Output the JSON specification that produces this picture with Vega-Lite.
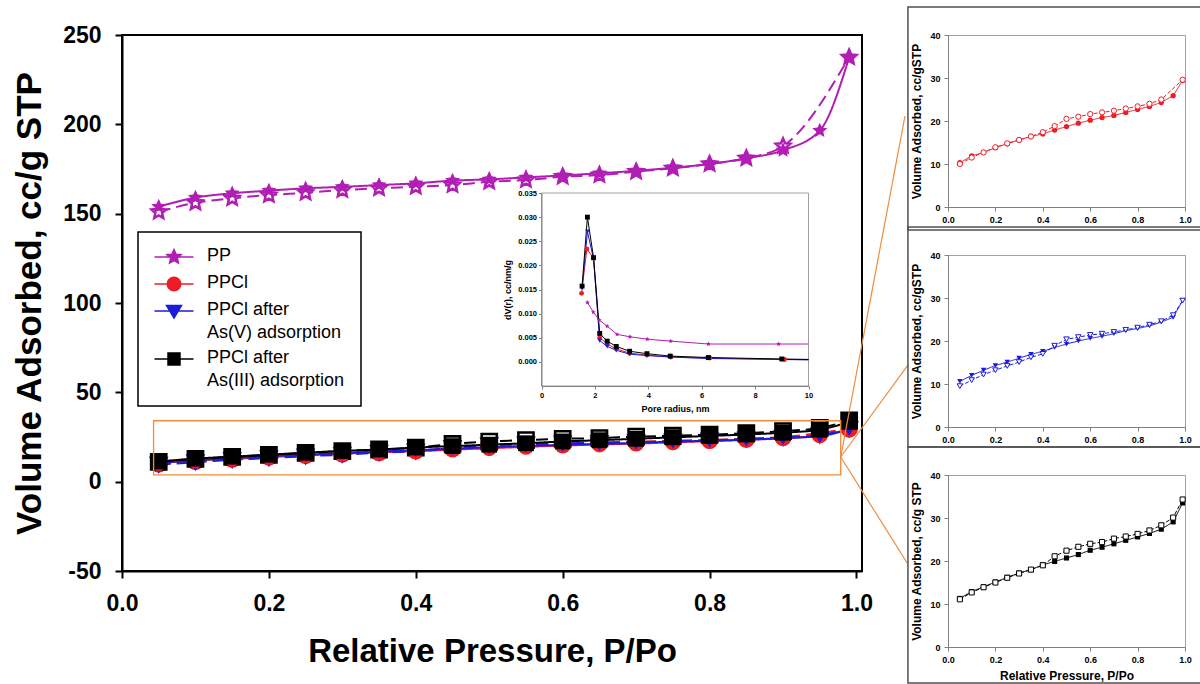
{
"$schema": "https://vega.github.io/schema/vega-lite/v6.json",
"padding": {"left": 11, "top": 5, "right": 0, "bottom": 0},
"background": "white",
"config": {"font": "Liberation Sans", "view": {"stroke": null}, "axis": {"grid": false, "labelFont": "Liberation Sans", "titleFont": "Liberation Sans", "labelFontWeight": "bold", "titleFontWeight": "bold", "labelColor": "black", "titleColor": "black"}},
"datasets": {
"iso": [
{"s":"PP","b":"ads","p":0.05,"v":153.9},{"s":"PP","b":"ads","p":0.1,"v":159},{"s":"PP","b":"ads","p":0.15,"v":161.4},{"s":"PP","b":"ads","p":0.2,"v":162.9},{"s":"PP","b":"ads","p":0.25,"v":164.2},{"s":"PP","b":"ads","p":0.3,"v":165},{"s":"PP","b":"ads","p":0.35,"v":166},{"s":"PP","b":"ads","p":0.4,"v":167},{"s":"PP","b":"ads","p":0.45,"v":168.5},{"s":"PP","b":"ads","p":0.5,"v":169.2},{"s":"PP","b":"ads","p":0.55,"v":170.3},{"s":"PP","b":"ads","p":0.6,"v":171.4},{"s":"PP","b":"ads","p":0.65,"v":172.6},{"s":"PP","b":"ads","p":0.7,"v":174},{"s":"PP","b":"ads","p":0.75,"v":175.7},{"s":"PP","b":"ads","p":0.8,"v":177.8},{"s":"PP","b":"ads","p":0.85,"v":181},{"s":"PP","b":"ads","p":0.9,"v":185.5},{"s":"PP","b":"ads","p":0.95,"v":196.5},{"s":"PP","b":"ads","p":0.99,"v":237.5},
{"s":"PP","b":"des","p":0.05,"v":151},{"s":"PP","b":"des","p":0.1,"v":156.1},{"s":"PP","b":"des","p":0.15,"v":158.6},{"s":"PP","b":"des","p":0.2,"v":160.4},{"s":"PP","b":"des","p":0.25,"v":161.7},{"s":"PP","b":"des","p":0.3,"v":163.2},{"s":"PP","b":"des","p":0.35,"v":164.2},{"s":"PP","b":"des","p":0.4,"v":165.1},{"s":"PP","b":"des","p":0.45,"v":166},{"s":"PP","b":"des","p":0.5,"v":167.9},{"s":"PP","b":"des","p":0.55,"v":168.8},{"s":"PP","b":"des","p":0.6,"v":170.7},{"s":"PP","b":"des","p":0.65,"v":171.6},{"s":"PP","b":"des","p":0.7,"v":173.5},{"s":"PP","b":"des","p":0.75,"v":175.4},{"s":"PP","b":"des","p":0.8,"v":177.8},{"s":"PP","b":"des","p":0.85,"v":181},{"s":"PP","b":"des","p":0.9,"v":187.8},{"s":"PP","b":"des","p":0.99,"v":237.5},
{"s":"PPCl","b":"ads","p":0.05,"v":10.3},{"s":"PPCl","b":"ads","p":0.1,"v":11.9},{"s":"PPCl","b":"ads","p":0.15,"v":12.7},{"s":"PPCl","b":"ads","p":0.2,"v":13.8},{"s":"PPCl","b":"ads","p":0.25,"v":14.7},{"s":"PPCl","b":"ads","p":0.3,"v":15.6},{"s":"PPCl","b":"ads","p":0.35,"v":16.4},{"s":"PPCl","b":"ads","p":0.4,"v":17.0},{"s":"PPCl","b":"ads","p":0.45,"v":17.9},{"s":"PPCl","b":"ads","p":0.5,"v":18.7},{"s":"PPCl","b":"ads","p":0.55,"v":19.5},{"s":"PPCl","b":"ads","p":0.6,"v":20.2},{"s":"PPCl","b":"ads","p":0.65,"v":20.8},{"s":"PPCl","b":"ads","p":0.7,"v":21.3},{"s":"PPCl","b":"ads","p":0.75,"v":22.0},{"s":"PPCl","b":"ads","p":0.8,"v":22.7},{"s":"PPCl","b":"ads","p":0.85,"v":23.4},{"s":"PPCl","b":"ads","p":0.9,"v":24.3},{"s":"PPCl","b":"ads","p":0.95,"v":25.9},{"s":"PPCl","b":"ads","p":0.99,"v":29.4},
{"s":"PPCl","b":"des","p":0.05,"v":10.0},{"s":"PPCl","b":"des","p":0.1,"v":11.5},{"s":"PPCl","b":"des","p":0.15,"v":12.7},{"s":"PPCl","b":"des","p":0.2,"v":13.9},{"s":"PPCl","b":"des","p":0.25,"v":14.8},{"s":"PPCl","b":"des","p":0.3,"v":15.6},{"s":"PPCl","b":"des","p":0.35,"v":16.4},{"s":"PPCl","b":"des","p":0.4,"v":17.4},{"s":"PPCl","b":"des","p":0.45,"v":18.8},{"s":"PPCl","b":"des","p":0.5,"v":20.5},{"s":"PPCl","b":"des","p":0.55,"v":21.0},{"s":"PPCl","b":"des","p":0.6,"v":21.6},{"s":"PPCl","b":"des","p":0.65,"v":22.0},{"s":"PPCl","b":"des","p":0.7,"v":22.4},{"s":"PPCl","b":"des","p":0.75,"v":22.9},{"s":"PPCl","b":"des","p":0.8,"v":23.4},{"s":"PPCl","b":"des","p":0.85,"v":24.0},{"s":"PPCl","b":"des","p":0.9,"v":25.0},{"s":"PPCl","b":"des","p":0.99,"v":29.6},
{"s":"AsV","b":"ads","p":0.05,"v":10.6},{"s":"AsV","b":"ads","p":0.1,"v":12.0},{"s":"AsV","b":"ads","p":0.15,"v":13.2},{"s":"AsV","b":"ads","p":0.2,"v":14.3},{"s":"AsV","b":"ads","p":0.25,"v":15.1},{"s":"AsV","b":"ads","p":0.3,"v":16.0},{"s":"AsV","b":"ads","p":0.35,"v":16.9},{"s":"AsV","b":"ads","p":0.4,"v":17.6},{"s":"AsV","b":"ads","p":0.45,"v":18.5},{"s":"AsV","b":"ads","p":0.5,"v":19.3},{"s":"AsV","b":"ads","p":0.55,"v":20.0},{"s":"AsV","b":"ads","p":0.6,"v":20.6},{"s":"AsV","b":"ads","p":0.65,"v":21.1},{"s":"AsV","b":"ads","p":0.7,"v":21.7},{"s":"AsV","b":"ads","p":0.75,"v":22.4},{"s":"AsV","b":"ads","p":0.8,"v":22.9},{"s":"AsV","b":"ads","p":0.85,"v":23.5},{"s":"AsV","b":"ads","p":0.9,"v":24.4},{"s":"AsV","b":"ads","p":0.95,"v":25.5},{"s":"AsV","b":"ads","p":0.99,"v":29.4},
{"s":"AsV","b":"des","p":0.05,"v":9.5},{"s":"AsV","b":"des","p":0.1,"v":10.9},{"s":"AsV","b":"des","p":0.15,"v":12.2},{"s":"AsV","b":"des","p":0.2,"v":13.2},{"s":"AsV","b":"des","p":0.25,"v":14.2},{"s":"AsV","b":"des","p":0.3,"v":15.1},{"s":"AsV","b":"des","p":0.35,"v":16.2},{"s":"AsV","b":"des","p":0.4,"v":17.0},{"s":"AsV","b":"des","p":0.45,"v":18.9},{"s":"AsV","b":"des","p":0.5,"v":20.4},{"s":"AsV","b":"des","p":0.55,"v":20.9},{"s":"AsV","b":"des","p":0.6,"v":21.4},{"s":"AsV","b":"des","p":0.65,"v":21.7},{"s":"AsV","b":"des","p":0.7,"v":22.1},{"s":"AsV","b":"des","p":0.75,"v":22.6},{"s":"AsV","b":"des","p":0.8,"v":23.1},{"s":"AsV","b":"des","p":0.85,"v":23.8},{"s":"AsV","b":"des","p":0.9,"v":24.6},{"s":"AsV","b":"des","p":0.95,"v":26.0},{"s":"AsV","b":"des","p":0.99,"v":29.4},
{"s":"AsIII","b":"ads","p":0.05,"v":11.3},{"s":"AsIII","b":"ads","p":0.1,"v":12.9},{"s":"AsIII","b":"ads","p":0.15,"v":14.0},{"s":"AsIII","b":"ads","p":0.2,"v":15.1},{"s":"AsIII","b":"ads","p":0.25,"v":16.2},{"s":"AsIII","b":"ads","p":0.3,"v":17.2},{"s":"AsIII","b":"ads","p":0.35,"v":18.0},{"s":"AsIII","b":"ads","p":0.4,"v":19.1},{"s":"AsIII","b":"ads","p":0.45,"v":19.9},{"s":"AsIII","b":"ads","p":0.5,"v":20.7},{"s":"AsIII","b":"ads","p":0.55,"v":21.5},{"s":"AsIII","b":"ads","p":0.6,"v":22.5},{"s":"AsIII","b":"ads","p":0.65,"v":23.2},{"s":"AsIII","b":"ads","p":0.7,"v":24.0},{"s":"AsIII","b":"ads","p":0.75,"v":24.8},{"s":"AsIII","b":"ads","p":0.8,"v":25.6},{"s":"AsIII","b":"ads","p":0.85,"v":26.4},{"s":"AsIII","b":"ads","p":0.9,"v":27.4},{"s":"AsIII","b":"ads","p":0.95,"v":29.1},{"s":"AsIII","b":"ads","p":0.99,"v":33.5},
{"s":"AsIII","b":"des","p":0.05,"v":11.1},{"s":"AsIII","b":"des","p":0.1,"v":12.7},{"s":"AsIII","b":"des","p":0.15,"v":13.9},{"s":"AsIII","b":"des","p":0.2,"v":15.0},{"s":"AsIII","b":"des","p":0.25,"v":16.1},{"s":"AsIII","b":"des","p":0.3,"v":17.1},{"s":"AsIII","b":"des","p":0.35,"v":18.0},{"s":"AsIII","b":"des","p":0.4,"v":19.0},{"s":"AsIII","b":"des","p":0.45,"v":21.1},{"s":"AsIII","b":"des","p":0.5,"v":22.4},{"s":"AsIII","b":"des","p":0.55,"v":23.3},{"s":"AsIII","b":"des","p":0.6,"v":24.0},{"s":"AsIII","b":"des","p":0.65,"v":24.4},{"s":"AsIII","b":"des","p":0.7,"v":25.2},{"s":"AsIII","b":"des","p":0.75,"v":25.7},{"s":"AsIII","b":"des","p":0.8,"v":26.3},{"s":"AsIII","b":"des","p":0.85,"v":27.1},{"s":"AsIII","b":"des","p":0.9,"v":28.3},{"s":"AsIII","b":"des","p":0.95,"v":30.1},{"s":"AsIII","b":"des","p":0.99,"v":34.3}
],
"psd": [
{"s":"PP","r":1.72,"dv":0.0123},{"s":"PP","r":1.94,"dv":0.0103},{"s":"PP","r":2.16,"dv":0.0087},{"s":"PP","r":2.46,"dv":0.0074},{"s":"PP","r":2.83,"dv":0.0057},{"s":"PP","r":3.31,"dv":0.0052},{"s":"PP","r":3.96,"dv":0.0047},{"s":"PP","r":4.84,"dv":0.0043},{"s":"PP","r":6.25,"dv":0.0037},{"s":"PP","r":8.88,"dv":0.0037},{"s":"PP","r":10,"dv":0.0037},
{"s":"PPCl","r":1.5,"dv":0.0142},{"s":"PPCl","r":1.7,"dv":0.0234},{"s":"PPCl","r":1.95,"dv":0.0215},{"s":"PPCl","r":2.18,"dv":0.005},{"s":"PPCl","r":2.46,"dv":0.0037},{"s":"PPCl","r":2.8,"dv":0.0027},{"s":"PPCl","r":3.3,"dv":0.0018},{"s":"PPCl","r":3.95,"dv":0.0014},{"s":"PPCl","r":4.84,"dv":0.001},{"s":"PPCl","r":6.3,"dv":0.0008},{"s":"PPCl","r":9.1,"dv":0.0005},{"s":"PPCl","r":10,"dv":0.0005},
{"s":"AsV","r":1.52,"dv":0.0153},{"s":"AsV","r":1.72,"dv":0.027},{"s":"AsV","r":1.95,"dv":0.0213},{"s":"AsV","r":2.18,"dv":0.0044},{"s":"AsV","r":2.46,"dv":0.0032},{"s":"AsV","r":2.8,"dv":0.0024},{"s":"AsV","r":3.3,"dv":0.0016},{"s":"AsV","r":3.95,"dv":0.0013},{"s":"AsV","r":4.84,"dv":0.001},{"s":"AsV","r":6.2,"dv":0.0007},{"s":"AsV","r":9.0,"dv":0.0005},{"s":"AsV","r":10,"dv":0.0004},
{"s":"AsIII","r":1.52,"dv":0.0157},{"s":"AsIII","r":1.72,"dv":0.03},{"s":"AsIII","r":1.95,"dv":0.0216},{"s":"AsIII","r":2.18,"dv":0.0059},{"s":"AsIII","r":2.46,"dv":0.0043},{"s":"AsIII","r":2.8,"dv":0.0032},{"s":"AsIII","r":3.3,"dv":0.0022},{"s":"AsIII","r":3.95,"dv":0.0017},{"s":"AsIII","r":4.82,"dv":0.0012},{"s":"AsIII","r":6.25,"dv":0.0009},{"s":"AsIII","r":9.0,"dv":0.0006},{"s":"AsIII","r":10,"dv":0.0005}
]
},
"bounds": "flush",
"spacing": 86,
"hconcat": [
{
"width": 740, "height": 536,
"view": {"stroke": "black", "strokeWidth": 2},
"resolve": {"scale": {"x": "independent", "y": "independent", "color": "independent", "shape": "independent", "strokeDash": "independent"}, "axis": {"x": "independent", "y": "independent"}},
"layer": [
{
"data": {"name": "iso"},
"resolve": {"scale": {"color": "independent", "shape": "independent", "strokeDash": "independent"}},
"layer": [
{"mark": {"type": "line", "strokeWidth": 2, "interpolate": "monotone"},
 "encoding": {
  "x": {"field": "p", "type": "quantitative", "scale": {"domain": [0, 1.0075], "nice": false, "zero": false}, "axis": {"title": "Relative Pressure, P/Po", "values": [0, 0.2, 0.4, 0.6, 0.8, 1], "format": ".1f", "labelFontSize": 23, "labelPadding": 14, "tickSize": 7, "tickWidth": 2, "tickColor": "black", "domainColor": "black", "domainWidth": 2, "titleFontSize": 33, "titlePadding": 20, "labelFlush": false}},
  "y": {"field": "v", "type": "quantitative", "scale": {"domain": [-50, 250], "nice": false, "zero": false}, "axis": {"title": "Volume Adsorbed, cc/g STP", "values": [-50, 0, 50, 100, 150, 200, 250], "labelExpr": "replace(datum.label, '\u2212', '-')", "labelFontSize": 23, "labelPadding": 14, "tickSize": 7, "tickWidth": 2, "tickColor": "black", "domainColor": "black", "domainWidth": 2, "titleFontSize": 35, "titlePadding": 15}},
  "color": {"field": "s", "type": "nominal", "scale": {"domain": ["PP", "PPCl", "AsV", "AsIII"], "range": ["#B01EB4", "#EE1C25", "#1C1CD8", "#000000"]}, "legend": null},
  "detail": {"field": "b"},
  "strokeDash": {"field": "b", "type": "nominal", "scale": {"domain": ["ads", "des"], "range": [[1, 0], [12, 6]]}, "legend": null}
 }},
{"transform": [{"filter": "datum.b == 'des'"}],
 "mark": {"type": "point", "filled": false, "fill": "white", "opacity": 1, "strokeWidth": 2.6, "size": 230},
 "encoding": {
  "x": {"field": "p", "type": "quantitative", "scale": {"domain": [0, 1.0075], "nice": false, "zero": false}},
  "y": {"field": "v", "type": "quantitative", "scale": {"domain": [-50, 250], "nice": false, "zero": false}},
  "color": {"field": "s", "type": "nominal", "scale": {"domain": ["PP", "PPCl", "AsV", "AsIII"], "range": ["#B01EB4", "#EE1C25", "#1C1CD8", "#000000"]}, "legend": null},
  "shape": {"field": "s", "type": "nominal", "scale": {"domain": ["PP", "PPCl", "AsV", "AsIII"], "range": ["M0,-1L0.276,-0.380L0.951,-0.309L0.447,0.145L0.588,0.809L0,0.47L-0.588,0.809L-0.447,0.145L-0.951,-0.309L-0.276,-0.380Z", "circle", "triangle-down", "square"]}, "legend": null}
 }},
{"transform": [{"filter": "datum.b == 'ads'"}],
 "mark": {"type": "point", "filled": true, "opacity": 1, "size": 250},
 "encoding": {
  "x": {"field": "p", "type": "quantitative", "scale": {"domain": [0, 1.0075], "nice": false, "zero": false}},
  "y": {"field": "v", "type": "quantitative", "scale": {"domain": [-50, 250], "nice": false, "zero": false}},
  "color": {"field": "s", "type": "nominal", "scale": {"domain": ["PP", "PPCl", "AsV", "AsIII"], "range": ["#B01EB4", "#EE1C25", "#1C1CD8", "#000000"]}, "legend": null},
  "shape": {"field": "s", "type": "nominal", "scale": {"domain": ["PP", "PPCl", "AsV", "AsIII"], "range": ["M0,-1L0.276,-0.380L0.951,-0.309L0.447,0.145L0.588,0.809L0,0.47L-0.588,0.809L-0.447,0.145L-0.951,-0.309L-0.276,-0.380Z", "circle", "triangle-down", "square"]}, "legend": null}
 }},
{"transform": [{"filter": "datum.b == 'ads' && datum.p == 0.05"}],
 "mark": {"type": "point", "filled": true, "opacity": 0},
 "encoding": {
  "x": {"field": "p", "type": "quantitative", "scale": {"domain": [0, 1.0075], "nice": false, "zero": false}},
  "y": {"field": "v", "type": "quantitative", "scale": {"domain": [-50, 250], "nice": false, "zero": false}},
  "color": {"field": "s", "type": "nominal", "scale": {"domain": ["PP", "PPCl", "AsV", "AsIII"], "range": ["#B01EB4", "#EE1C25", "#1C1CD8", "#000000"]},
   "legend": {"title": null, "orient": "none", "legendX": 16, "legendY": 197, "padding": 16, "strokeColor": "black", "fillColor": "white", "labelFontSize": 18, "labelColor": "black", "labelFont": "Liberation Sans", "symbolSize": 225, "symbolStrokeWidth": 1.5, "symbolOffset": 11, "labelOffset": 24, "rowPadding": 7, "labelLimit": 300, "labelBaseline": "top",
    "labelExpr": "datum.label == 'AsV' ? ['PPCl after', '\u00a0As(V) adsorption'] : datum.label == 'AsIII' ? ['PPCl after', 'As(III) adsorption'] : datum.label",
    "encode": {"legend": {"update": {"strokeWidth": {"value": 1.5}}}, "symbols": {"update": {"opacity": {"value": 1}, "stroke": {"signal": "datum.value == 'PP' ? '#B01EB4' : datum.value == 'PPCl' ? '#EE1C25' : datum.value == 'AsV' ? '#1C1CD8' : '#000000'"}}}, "labels": {"update": {"dy": {"value": -10}, "lineHeight": {"value": 23}}}}}},
  "shape": {"field": "s", "type": "nominal", "scale": {"domain": ["PP", "PPCl", "AsV", "AsIII"], "range": ["M-2.6,0H2.6M0,-1L0.276,-0.380L0.951,-0.309L0.447,0.145L0.588,0.809L0,0.47L-0.588,0.809L-0.447,0.145L-0.951,-0.309L-0.276,-0.380Z", "M-2.6,0H2.6M0.9,0A0.9,0.9,0,1,1,-0.9,0A0.9,0.9,0,1,1,0.9,0Z", "M-2.6,0H2.6M-1,-0.75L1,-0.75L0,0.95Z", "M-2.6,0H2.6M-0.8,-0.8H0.8V0.8H-0.8Z"]},
   "legend": {"title": null, "orient": "none", "legendX": 16, "legendY": 197, "padding": 16, "strokeColor": "black", "fillColor": "white", "labelFontSize": 18, "labelColor": "black", "labelFont": "Liberation Sans", "symbolSize": 225, "symbolStrokeWidth": 1.5, "symbolOffset": 11, "labelOffset": 24, "rowPadding": 7, "labelLimit": 300, "labelBaseline": "top",
    "labelExpr": "datum.label == 'AsV' ? ['PPCl after', '\u00a0As(V) adsorption'] : datum.label == 'AsIII' ? ['PPCl after', 'As(III) adsorption'] : datum.label",
    "encode": {"legend": {"update": {"strokeWidth": {"value": 1.5}}}, "symbols": {"update": {"opacity": {"value": 1}, "stroke": {"signal": "datum.value == 'PP' ? '#B01EB4' : datum.value == 'PPCl' ? '#EE1C25' : datum.value == 'AsV' ? '#1C1CD8' : '#000000'"}}}, "labels": {"update": {"dy": {"value": -10}, "lineHeight": {"value": 23}}}}}}
 }},
{"data": {"values": [{}]},
 "mark": {"type": "rect", "fill": "white", "fillOpacity": 0, "stroke": "#F08C3C", "strokeWidth": 1.3},
 "encoding": {
  "x": {"datum": 0.043, "type": "quantitative", "scale": {"domain": [0, 1.0075], "nice": false, "zero": false}},
  "x2": {"datum": 0.9785},
  "y": {"datum": 34.1, "type": "quantitative", "scale": {"domain": [-50, 250], "nice": false, "zero": false}},
  "y2": {"datum": 3.75}
 }},
{"data": {"values": [{}]},
 "mark": {"type": "rule", "stroke": "#F08C3C", "strokeWidth": 1.2},
 "encoding": {
  "x": {"datum": 0.9785, "type": "quantitative", "scale": {"domain": [0, 1.0075], "nice": false, "zero": false}},
  "x2": {"datum": 1.066},
  "y": {"datum": 13.8, "type": "quantitative", "scale": {"domain": [-50, 250], "nice": false, "zero": false}},
  "y2": {"datum": 204.6}
 }},
{"data": {"values": [{}]},
 "mark": {"type": "rule", "stroke": "#F08C3C", "strokeWidth": 1.2},
 "encoding": {
  "x": {"datum": 0.9785, "type": "quantitative", "scale": {"domain": [0, 1.0075], "nice": false, "zero": false}},
  "x2": {"datum": 1.07},
  "y": {"datum": 13.8, "type": "quantitative", "scale": {"domain": [-50, 250], "nice": false, "zero": false}},
  "y2": {"datum": 65.2}
 }},
{"data": {"values": [{}]},
 "mark": {"type": "rule", "stroke": "#F08C3C", "strokeWidth": 1.2},
 "encoding": {
  "x": {"datum": 0.9785, "type": "quantitative", "scale": {"domain": [0, 1.0075], "nice": false, "zero": false}},
  "x2": {"datum": 1.069},
  "y": {"datum": 13.8, "type": "quantitative", "scale": {"domain": [-50, 250], "nice": false, "zero": false}},
  "y2": {"datum": -45.5}
 }}
]
},
{
"data": {"name": "psd"},
"layer": [
{"data": {"values": [{}]},
 "mark": {"type": "rect", "fill": "white", "stroke": "#a0a0a0", "strokeWidth": 1},
 "encoding": {
  "x": {"datum": 0, "type": "quantitative", "scale": {"domain": [0, 10], "range": [419.5, 686.5], "nice": false, "zero": false}},
  "x2": {"datum": 10},
  "y": {"datum": -0.005, "type": "quantitative", "scale": {"domain": [-0.005, 0.035], "range": [351, 158], "nice": false, "zero": false}},
  "y2": {"datum": 0.035}
 }},
{"mark": {"type": "line", "strokeWidth": 1},
 "encoding": {
  "x": {"field": "r", "type": "quantitative", "scale": {"domain": [0, 10], "range": [419.5, 686.5], "nice": false, "zero": false}, "axis": {"orient": "bottom", "offset": -185, "values": [0, 2, 4, 6, 8, 10], "format": "d", "title": "Pore radius, nm", "labelFontSize": 7.5, "titleFontSize": 9, "tickSize": 3, "labelPadding": 2, "titlePadding": 6, "domainColor": "#808080", "tickColor": "#808080", "zindex": 1, "labelFlush": false}},
  "y": {"field": "dv", "type": "quantitative", "scale": {"domain": [-0.005, 0.035], "range": [351, 158], "nice": false, "zero": false}, "axis": {"orient": "left", "offset": -419.5, "values": [0, 0.005, 0.01, 0.015, 0.02, 0.025, 0.03, 0.035], "format": ".3f", "title": "dV(r), cc/nm/g", "labelFontSize": 7.5, "titleFontSize": 9, "tickSize": 3, "labelPadding": 2, "titlePadding": 5, "domainColor": "#808080", "tickColor": "#808080", "zindex": 1}},
  "color": {"field": "s", "type": "nominal", "scale": {"domain": ["PP", "PPCl", "AsV", "AsIII"], "range": ["#B01EB4", "#EE1C25", "#1C1CD8", "#000000"]}, "legend": null}
 }},
{"transform": [{"filter": "datum.r < 10"}],
 "mark": {"type": "point", "filled": true, "opacity": 1, "size": 24},
 "encoding": {
  "x": {"field": "r", "type": "quantitative", "scale": {"domain": [0, 10], "range": [419.5, 686.5], "nice": false, "zero": false}},
  "y": {"field": "dv", "type": "quantitative", "scale": {"domain": [-0.005, 0.035], "range": [351, 158], "nice": false, "zero": false}},
  "color": {"field": "s", "type": "nominal", "scale": {"domain": ["PP", "PPCl", "AsV", "AsIII"], "range": ["#B01EB4", "#EE1C25", "#1C1CD8", "#000000"]}, "legend": null},
  "shape": {"field": "s", "type": "nominal", "scale": {"domain": ["PP", "PPCl", "AsV", "AsIII"], "range": ["M0,-1L0.276,-0.380L0.951,-0.309L0.447,0.145L0.588,0.809L0,0.47L-0.588,0.809L-0.447,0.145L-0.951,-0.309L-0.276,-0.380Z", "circle", "triangle-down", "square"]}, "legend": null}
 }}
]
}
]
},
{
"vconcat": [
{
"width": 237, "height": 172,
"view": {"stroke": "#a0a0a0"},
"data": {"name": "iso"},
"transform": [{"filter": "datum.s == 'PPCl'"}],
"layer": [
{"mark": {"type": "line", "strokeWidth": 1, "color": "#EE1C25"},
 "encoding": {
  "x": {"field": "p", "type": "quantitative", "scale": {"domain": [0, 1], "nice": false, "zero": false}, "axis": {"values": [0, 0.2, 0.4, 0.6, 0.8, 1], "format": ".1f", "title": null, "labelFontSize": 9, "labelPadding": 4, "tickSize": 4, "tickColor": "#808080", "domainColor": "#808080", "labelFlush": false}},
  "y": {"field": "v", "type": "quantitative", "scale": {"domain": [0, 40], "nice": false}, "axis": {"values": [0, 10, 20, 30, 40], "title": "Volume Adsorbed, cc/gSTP", "labelFontSize": 9, "labelPadding": 4, "tickSize": 4, "tickColor": "#808080", "domainColor": "#808080", "titleFontSize": 12, "titlePadding": 6}},
  "detail": {"field": "b"},
  "strokeDash": {"field": "b", "type": "nominal", "scale": {"domain": ["ads", "des"], "range": [[1, 0], [4, 2]]}, "legend": null}
 }},
{"transform": [{"filter": "datum.b == 'ads'"}],
 "mark": {"type": "point", "shape": "circle", "filled": true, "opacity": 1, "size": 28, "color": "#EE1C25"},
 "encoding": {"x": {"field": "p", "type": "quantitative", "scale": {"domain": [0, 1], "nice": false, "zero": false}}, "y": {"field": "v", "type": "quantitative", "scale": {"domain": [0, 40], "nice": false}}}},
{"transform": [{"filter": "datum.b == 'des'"}],
 "mark": {"type": "point", "shape": "circle", "filled": false, "fill": "white", "opacity": 1, "strokeWidth": 1, "size": 28, "color": "#EE1C25"},
 "encoding": {"x": {"field": "p", "type": "quantitative", "scale": {"domain": [0, 1], "nice": false, "zero": false}}, "y": {"field": "v", "type": "quantitative", "scale": {"domain": [0, 40], "nice": false}}}},
{"data": {"values": [{}]},
 "mark": {"type": "rect", "fill": "white", "fillOpacity": 0, "stroke": "#505050", "strokeWidth": 1.5},
 "encoding": {"x": {"datum": -0.169, "type": "quantitative", "scale": {"domain": [0, 1], "nice": false, "zero": false}}, "x2": {"datum": 1.07}, "y": {"datum": -5.35, "type": "quantitative", "scale": {"domain": [0, 40], "nice": false}}, "y2": {"datum": 46.5}}}
]
},
{
"width": 237, "height": 172,
"view": {"stroke": "#a0a0a0"},
"data": {"name": "iso"},
"transform": [{"filter": "datum.s == 'AsV'"}],
"layer": [
{"mark": {"type": "line", "strokeWidth": 1, "color": "#1C1CD8"},
 "encoding": {
  "x": {"field": "p", "type": "quantitative", "scale": {"domain": [0, 1], "nice": false, "zero": false}, "axis": {"values": [0, 0.2, 0.4, 0.6, 0.8, 1], "format": ".1f", "title": null, "labelFontSize": 9, "labelPadding": 4, "tickSize": 4, "tickColor": "#808080", "domainColor": "#808080", "labelFlush": false}},
  "y": {"field": "v", "type": "quantitative", "scale": {"domain": [0, 40], "nice": false}, "axis": {"values": [0, 10, 20, 30, 40], "title": "Volume Adsorbed, cc/gSTP", "labelFontSize": 9, "labelPadding": 4, "tickSize": 4, "tickColor": "#808080", "domainColor": "#808080", "titleFontSize": 12, "titlePadding": 6}},
  "detail": {"field": "b"},
  "strokeDash": {"field": "b", "type": "nominal", "scale": {"domain": ["ads", "des"], "range": [[1, 0], [4, 2]]}, "legend": null}
 }},
{"transform": [{"filter": "datum.b == 'ads'"}],
 "mark": {"type": "point", "shape": "triangle-down", "filled": true, "opacity": 1, "size": 30, "color": "#1C1CD8"},
 "encoding": {"x": {"field": "p", "type": "quantitative", "scale": {"domain": [0, 1], "nice": false, "zero": false}}, "y": {"field": "v", "type": "quantitative", "scale": {"domain": [0, 40], "nice": false}}}},
{"transform": [{"filter": "datum.b == 'des'"}],
 "mark": {"type": "point", "shape": "triangle-down", "filled": false, "fill": "white", "opacity": 1, "strokeWidth": 1, "size": 30, "color": "#1C1CD8"},
 "encoding": {"x": {"field": "p", "type": "quantitative", "scale": {"domain": [0, 1], "nice": false, "zero": false}}, "y": {"field": "v", "type": "quantitative", "scale": {"domain": [0, 40], "nice": false}}}},
{"data": {"values": [{}]},
 "mark": {"type": "rect", "fill": "white", "fillOpacity": 0, "stroke": "#505050", "strokeWidth": 1.5},
 "encoding": {"x": {"datum": -0.169, "type": "quantitative", "scale": {"domain": [0, 1], "nice": false, "zero": false}}, "x2": {"datum": 1.07}, "y": {"datum": -4.65, "type": "quantitative", "scale": {"domain": [0, 40], "nice": false}}, "y2": {"datum": 46.5}}}
]
},
{
"width": 237, "height": 172,
"view": {"stroke": "#a0a0a0"},
"data": {"name": "iso"},
"transform": [{"filter": "datum.s == 'AsIII'"}],
"layer": [
{"mark": {"type": "line", "strokeWidth": 1, "color": "#000000"},
 "encoding": {
  "x": {"field": "p", "type": "quantitative", "scale": {"domain": [0, 1], "nice": false, "zero": false}, "axis": {"values": [0, 0.2, 0.4, 0.6, 0.8, 1], "format": ".1f", "title": "Relative Pressure, P/Po", "titleFontSize": 12, "titlePadding": 6, "labelFontSize": 9, "labelPadding": 4, "tickSize": 4, "tickColor": "#808080", "domainColor": "#808080", "labelFlush": false}},
  "y": {"field": "v", "type": "quantitative", "scale": {"domain": [0, 40], "nice": false}, "axis": {"values": [0, 10, 20, 30, 40], "title": "Volume Adsorbed, cc/g STP", "labelFontSize": 9, "labelPadding": 4, "tickSize": 4, "tickColor": "#808080", "domainColor": "#808080", "titleFontSize": 12, "titlePadding": 6}},
  "detail": {"field": "b"},
  "strokeDash": {"field": "b", "type": "nominal", "scale": {"domain": ["ads", "des"], "range": [[1, 0], [4, 2]]}, "legend": null}
 }},
{"transform": [{"filter": "datum.b == 'ads'"}],
 "mark": {"type": "point", "shape": "square", "filled": true, "opacity": 1, "size": 26, "color": "#000000"},
 "encoding": {"x": {"field": "p", "type": "quantitative", "scale": {"domain": [0, 1], "nice": false, "zero": false}}, "y": {"field": "v", "type": "quantitative", "scale": {"domain": [0, 40], "nice": false}}}},
{"transform": [{"filter": "datum.b == 'des'"}],
 "mark": {"type": "point", "shape": "square", "filled": false, "fill": "white", "opacity": 1, "strokeWidth": 1, "size": 26, "color": "#000000"},
 "encoding": {"x": {"field": "p", "type": "quantitative", "scale": {"domain": [0, 1], "nice": false, "zero": false}}, "y": {"field": "v", "type": "quantitative", "scale": {"domain": [0, 40], "nice": false}}}},
{"data": {"values": [{}]},
 "mark": {"type": "rect", "fill": "white", "fillOpacity": 0, "stroke": "#505050", "strokeWidth": 1.5},
 "encoding": {"x": {"datum": -0.169, "type": "quantitative", "scale": {"domain": [0, 1], "nice": false, "zero": false}}, "x2": {"datum": 1.07}, "y": {"datum": -8.4, "type": "quantitative", "scale": {"domain": [0, 40], "nice": false}}, "y2": {"datum": 46.5}}}
]
}
],
"spacing": 48,
"bounds": "flush"
}
]
}
